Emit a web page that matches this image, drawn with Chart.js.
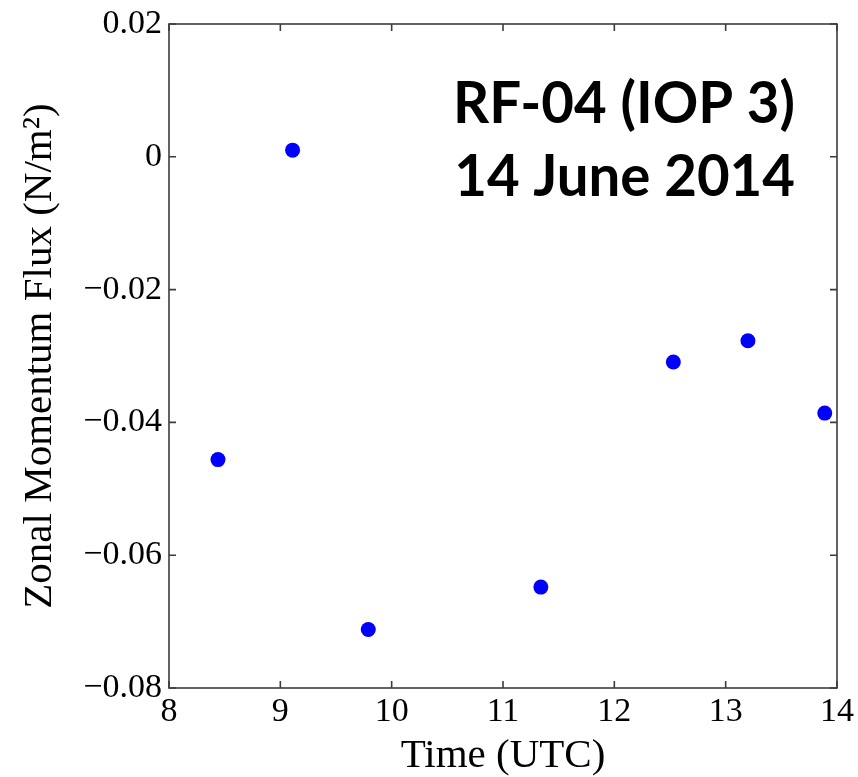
<!DOCTYPE html>
<html>
<head>
<meta charset="utf-8">
<script src="https://cdn.jsdelivr.net/npm/chart.js@4"></script>
<style>
  html, body { margin: 0; padding: 0; background: #fff; }
  #wrap { width: 858px; height: 777px; position: relative; }
</style>
</head>
<body>
<div id="wrap"><canvas id="fluxChart"></canvas></div>
<script>
// RF-04 zonal momentum flux vs time

const timesUTC = [8.44, 9.11, 9.79, 11.34, 12.53, 13.20, 13.89];
const zonalFlux = [-0.0456, 0.0010, -0.0712, -0.0648, -0.0309, -0.0277, -0.0386];
const xTicks = [8, 9, 10, 11, 12, 13, 14];
const yTicks = [0.02, 0, -0.02, -0.04, -0.06, -0.08];
const annotLines = ["RF-04 (IOP 3)", "14 June 2014"];

const serif = "'Liberation Serif', 'DejaVu Serif', serif";
const axisColor = "#3c3c3c";

function fmtY(v) {
  const r = Math.round(v * 100) / 100;
  if (r === 0) return "0";
  return r.toFixed(2).replace("-", "\u2212");
}

// box + inward ticks on all four sides (MATLAB style)
const boxTicks = {
  id: "boxTicks",
  afterDatasetsDraw(chart) {
    const { ctx, chartArea: a, scales } = chart;
    const len = 7;
    ctx.save();
    ctx.strokeStyle = axisColor;
    ctx.lineWidth = 1.6;
    ctx.strokeRect(a.left, a.top, a.right - a.left, a.bottom - a.top);
    ctx.beginPath();
    xTicks.forEach(t => {
      const px = scales.x.getPixelForValue(t);
      ctx.moveTo(px, a.bottom); ctx.lineTo(px, a.bottom - len);
      ctx.moveTo(px, a.top); ctx.lineTo(px, a.top + len);
    });
    yTicks.forEach(t => {
      const py = scales.y.getPixelForValue(t);
      ctx.moveTo(a.left, py); ctx.lineTo(a.left + len, py);
      ctx.moveTo(a.right, py); ctx.lineTo(a.right - len, py);
    });
    ctx.stroke();
    ctx.restore();
  }
};

// bold flight label in the upper right
const flightLabel = {
  id: "flightLabel",
  afterDraw(chart) {
    const ctx = chart.ctx;
    ctx.save();
    ctx.fillStyle = "#000";
    ctx.textAlign = "right";
    ctx.textBaseline = "alphabetic";
    ctx.font = "bold 60px Lato, 'Open Sans', sans-serif";
    const w = ctx.measureText(annotLines[0]).width;
    const size = 60 * 342 / w;
    ctx.font = "bold " + size.toFixed(1) + "px Lato, 'Open Sans', sans-serif";
    ctx.fillText(annotLines[0], 795, 123);
    ctx.fillText(annotLines[1], 795, 196);
    ctx.restore();
  }
};

const ctx = document.getElementById("fluxChart").getContext("2d");

new Chart(ctx, {
  type: "scatter",
  data: {
    datasets: [{
      label: "Zonal momentum flux",
      data: timesUTC.map((t, i) => ({ x: t, y: zonalFlux[i] })),
      backgroundColor: "#0000ff",
      borderWidth: 0,
      pointRadius: 7.5,
      pointHoverRadius: 7.5
    }]
  },
  options: {
    responsive: true,
    maintainAspectRatio: false,
    animation: false,
    layout: { padding: { top: 22, right: 21, left: 0, bottom: 0 } },
    plugins: {
      legend: { display: false },
      tooltip: { enabled: false }
    },
    scales: {
      x: {
        type: "linear",
        min: 8,
        max: 14,
        afterBuildTicks: s => { s.ticks = xTicks.map(v => ({ value: v })); },
        grid: { display: false, drawTicks: false },
        border: { display: false },
        ticks: {
          color: "#000",
          padding: 4,
          font: { family: serif, size: 34 },
          maxRotation: 0
        },
        title: {
          display: true,
          text: "Time (UTC)",
          color: "#000",
          font: { family: serif, size: 41, lineHeight: 1.0 },
          padding: { top: 0, bottom: 0 }
        },
        afterFit: s => { s.height = 89; }
      },
      y: {
        type: "linear",
        min: -0.08,
        max: 0.02,
        afterBuildTicks: s => { s.ticks = yTicks.map(v => ({ value: v })); },
        grid: { display: false, drawTicks: false },
        border: { display: false },
        ticks: {
          color: "#000",
          padding: 7,
          font: { family: serif, size: 34, lineHeight: 1.0 },
          callback: v => fmtY(v)
        },
        title: {
          display: true,
          text: "Zonal Momentum Flux (N/m\u00b2)",
          color: "#000",
          font: { family: serif, size: 41, lineHeight: 1.0 },
          padding: { top: 20, bottom: 0 }
        },
        afterFit: s => { s.width = 169; }
      }
    }
  },
  plugins: [boxTicks, flightLabel]
});
</script>
</body>
</html>
